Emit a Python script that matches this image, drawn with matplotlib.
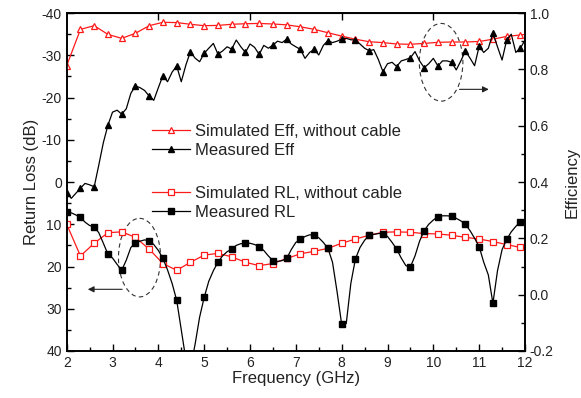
import numpy as np
import matplotlib
matplotlib.use('Agg')
import matplotlib.pyplot as plt
from matplotlib.patches import Ellipse
from matplotlib.ticker import MultipleLocator

plt.rcParams['font.family'] = ['Liberation Sans', 'DejaVu Sans']
plt.rcParams['axes.unicode_minus'] = False

# frequency grids (GHz)
freq_fine = np.round(np.arange(2.0, 12.01, 0.1), 1)
freq_sim = list(np.round(np.arange(2.0, 11.91, 0.3), 1)) + [12.0]

# simulated efficiency, without cable (right axis)
sim_eff = [0.813, 0.942, 0.955, 0.924, 0.910, 0.928, 0.955, 0.967, 0.966, 0.960,
           0.955, 0.956, 0.960, 0.962, 0.963, 0.961, 0.958, 0.951, 0.942, 0.930,
           0.918, 0.907, 0.898, 0.895, 0.890, 0.889, 0.892, 0.896, 0.897, 0.897,
           0.899, 0.907, 0.917, 0.922, 0.924]

# measured efficiency (right axis)
meas_eff = [0.362, 0.342, 0.360, 0.378, 0.395, 0.390, 0.383, 0.460, 0.540, 0.602,
            0.648, 0.655, 0.641, 0.660, 0.715, 0.741, 0.735, 0.725, 0.705, 0.690,
            0.735, 0.778, 0.756, 0.790, 0.812, 0.756, 0.815, 0.863, 0.840, 0.827,
            0.857, 0.875, 0.892, 0.854, 0.865, 0.880, 0.872, 0.904, 0.880, 0.860,
            0.890, 0.878, 0.853, 0.885, 0.875, 0.886, 0.900, 0.895, 0.907, 0.890,
            0.880, 0.871, 0.839, 0.860, 0.871, 0.851, 0.885, 0.902, 0.895, 0.900,
            0.907, 0.910, 0.905, 0.904, 0.890, 0.875, 0.866, 0.870, 0.835, 0.792,
            0.820, 0.825, 0.810, 0.830, 0.835, 0.841, 0.863, 0.830, 0.806, 0.820,
            0.839, 0.812, 0.830, 0.830, 0.825, 0.798, 0.830, 0.865, 0.840, 0.813,
            0.882, 0.860, 0.875, 0.928, 0.880, 0.833, 0.904, 0.925, 0.860, 0.875,
            0.904]

# simulated return loss, without cable (dB, left axis)
sim_rl = [10.0, 17.5, 14.5, 12.0, 11.8, 13.1, 15.9, 19.3, 20.9, 19.0,
          17.3, 16.9, 17.7, 19.0, 19.8, 19.3, 18.1, 17.0, 16.4, 15.7,
          14.5, 13.5, 12.6, 11.9, 11.8, 11.9, 12.2, 12.3, 12.6, 13.1,
          13.5, 14.1, 14.8, 15.5, 15.7]

# measured return loss (dB, left axis)
meas_rl = [7.2, 7.3, 7.8, 8.4, 9.5, 10.3, 10.6, 12.0, 14.5, 17.1,
           18.0, 19.5, 20.9, 18.5, 15.5, 14.4, 14.0, 13.7, 13.9, 14.8,
           16.2, 18.1, 20.8, 24.0, 28.0, 35.0, 42.0, 44.0, 38.5, 32.0,
           27.3, 23.5, 21.0, 19.0, 17.5, 16.5, 15.9, 15.0, 14.6, 14.5,
           14.5, 14.8, 15.3, 16.2, 17.5, 18.6, 18.8, 18.6, 18.1, 16.0,
           14.3, 13.6, 12.9, 12.5, 12.6, 13.2, 14.3, 15.7, 19.0, 26.0,
           33.7, 33.5, 24.0, 18.2, 15.5, 13.8, 12.6, 12.4, 12.2, 12.2,
           12.9, 14.3, 15.9, 18.0, 19.8, 20.1, 17.5, 14.0, 11.5, 10.0,
           9.0, 8.2, 8.0, 8.0, 8.1, 8.6, 9.2, 10.0, 11.5, 13.3,
           15.3, 19.0, 22.0, 28.7, 21.0, 16.0, 13.6, 11.8, 10.5, 9.4,
           9.2]

red = '#ff1a1a'
txt = '#222222'

fig = plt.figure(figsize=(5.81, 3.98), dpi=100)
ax = fig.add_axes([0.1148, 0.1181, 0.7888, 0.8492])
ax2 = ax.twinx()

# return loss on left axis
l_srl, = ax.plot(freq_sim, sim_rl, color=red, lw=0.9, marker='s', ms=4.5,
                 mfc='white', mec=red, mew=0.9, markevery=slice(0, 34),
                 label='Simulated RL, without cable')
l_mrl, = ax.plot(freq_fine, meas_rl, color='black', lw=0.9, marker='s', ms=4.5,
                 markevery=3, label='Measured RL')

# efficiency on right axis
l_seff, = ax2.plot(freq_sim, sim_eff, color=red, lw=0.9, marker='^', ms=5,
                   mfc='white', mec=red, mew=0.9, markevery=slice(0, 34),
                   label='Simulated Eff, without cable')
l_meff, = ax2.plot(freq_fine, meas_eff, color='black', lw=0.9, marker='^', ms=5,
                   markevery=3, label='Measured Eff')

ax.set_xlim(2, 12)
ax.set_ylim(40, -40)
ax2.set_ylim(-0.2, 1.0)

ax.xaxis.set_major_locator(MultipleLocator(1))
ax.xaxis.set_minor_locator(MultipleLocator(0.5))
ax.yaxis.set_major_locator(MultipleLocator(10))
ax.yaxis.set_minor_locator(MultipleLocator(5))
ax2.yaxis.set_major_locator(MultipleLocator(0.2))
ax2.yaxis.set_minor_locator(MultipleLocator(0.1))
ax2.set_yticks(ax2.get_yticks())
ax2.set_yticklabels([f'{v:.1f}' for v in ax2.get_yticks()])
ax2.set_ylim(-0.2, 1.0)

for a in (ax, ax2):
    a.tick_params(which='both', direction='in', labelsize=10, colors='black',
                  labelcolor=txt, width=1.0)
    a.tick_params(which='major', length=5)
    a.tick_params(which='minor', length=3)
    for s in a.spines.values():
        s.set_linewidth(1.2)

top = ax.secondary_xaxis('top')
top.set_xticks([4, 6, 8, 10])
top.tick_params(direction='in', length=5, width=1.0, labeltop=False)

ax.set_xlabel('Frequency (GHz)', fontsize=12, color=txt, labelpad=1)
ax.set_ylabel('Return Loss (dB)', fontsize=12, color=txt, labelpad=2)
ax2.set_ylabel('Efficiency', fontsize=12, color=txt, labelpad=8)

# dashed ellipses and arrows
ax.add_patch(Ellipse((3.59, 17.9), 0.92, 18.6, fill=False, ls=(0, (4, 3)),
                     lw=0.8, ec='#333333'))
ax.annotate('', xy=(2.40, 25.4), xytext=(3.27, 25.4),
            arrowprops=dict(arrowstyle='-|>', color='#222222', lw=0.8,
                            mutation_scale=9))
ax2.add_patch(Ellipse((10.17, 0.825), 0.95, 0.276, fill=False, ls=(0, (4, 3)),
                      lw=0.8, ec='#333333'))
ax2.annotate('', xy=(11.27, 0.729), xytext=(10.51, 0.729),
             arrowprops=dict(arrowstyle='-|>', color='#222222', lw=0.8,
                             mutation_scale=9))

leg1 = ax2.legend(handles=[l_seff, l_meff], loc='upper left',
                  bbox_to_anchor=(0.186, 0.672), frameon=False, fontsize=12,
                  borderpad=0, borderaxespad=0, labelspacing=0.25,
                  handlelength=2.3, handletextpad=0.3)
leg2 = ax.legend(handles=[l_srl, l_mrl], loc='upper left',
                 bbox_to_anchor=(0.186, 0.489), frameon=False, fontsize=12,
                 borderpad=0, borderaxespad=0, labelspacing=0.25,
                 handlelength=2.3, handletextpad=0.3)
for lg in (leg1, leg2):
    for t in lg.get_texts():
        t.set_color(txt)

fig.savefig('out.png', dpi=100)
